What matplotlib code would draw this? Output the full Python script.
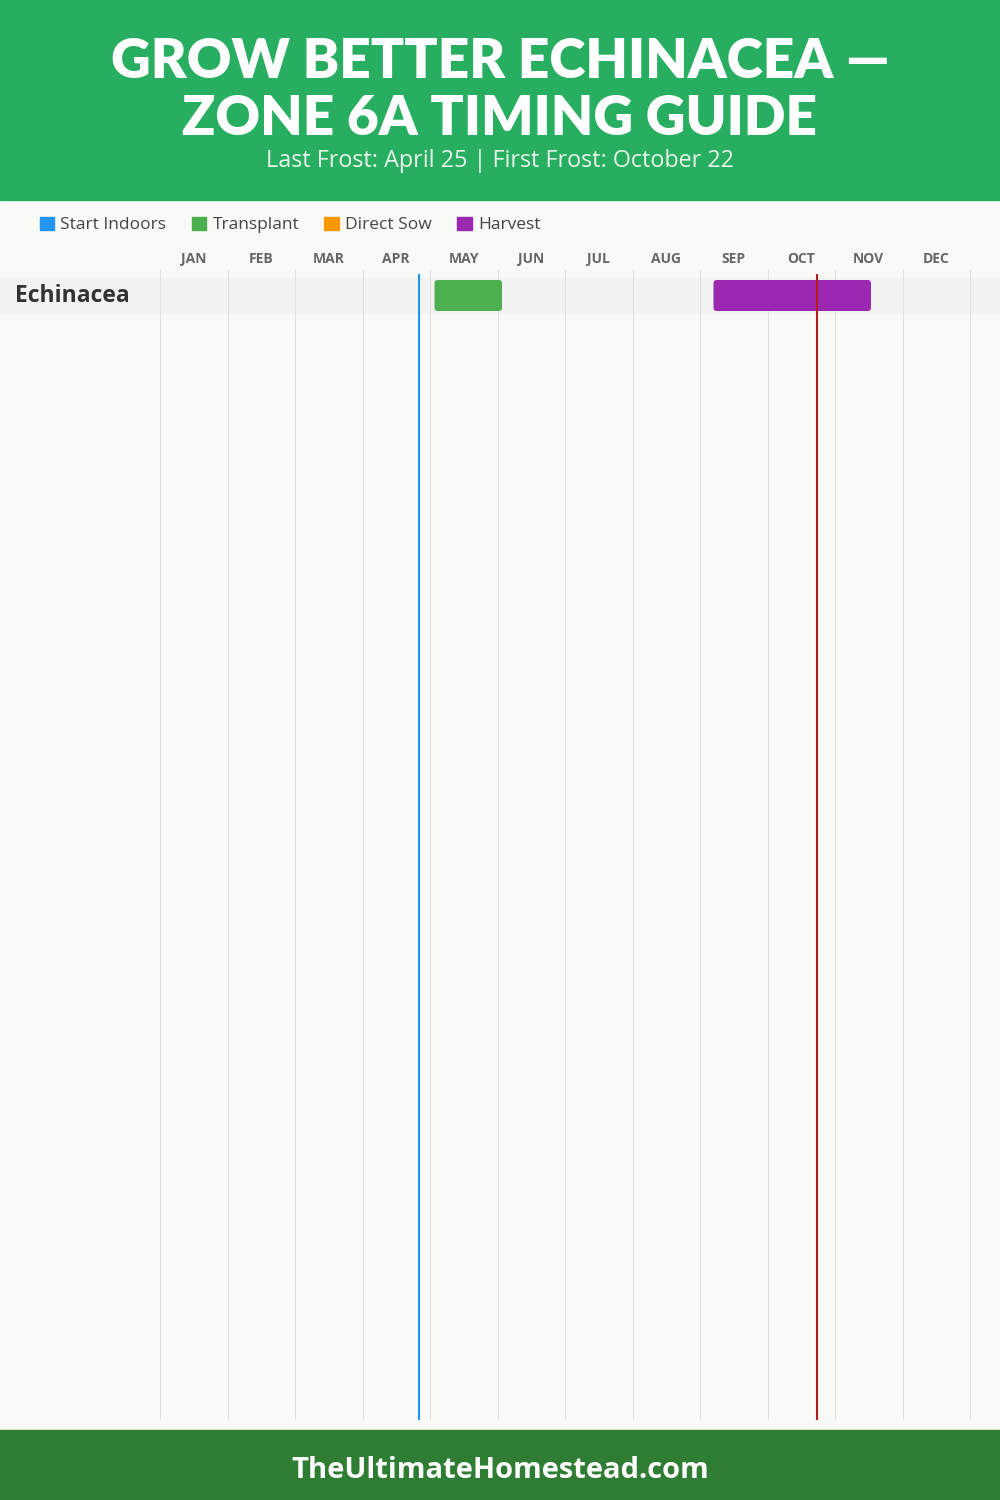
import matplotlib.pyplot as plt
from matplotlib.patches import Rectangle, FancyBboxPatch, Patch

# data
months = ['JAN', 'FEB', 'MAR', 'APR', 'MAY', 'JUN', 'JUL', 'AUG', 'SEP', 'OCT', 'NOV', 'DEC']
crops = ['Echinacea']
# (crop, stage, start (month, day), end (month, day))
stages = ['Start Indoors', 'Transplant', 'Direct Sow', 'Harvest']
stage_colors = ['#2196f3', '#4caf50', '#ff9800', '#9c27b0']
bars = [
    ('Echinacea', 'Transplant', (5, 2), (6, 2)),
    ('Echinacea', 'Harvest', (9, 6), (11, 16)),
]
last_frost = (4, 25)
first_frost = (10, 22)
title_lines = ['GROW BETTER ECHINACEA —', 'ZONE 6A TIMING GUIDE']
subtitle = 'Last Frost: April 25 | First Frost: October 22'
footer = 'TheUltimateHomestead.com'


def to_x(md):
    # month position, each month treated as 30 days
    m, d = md
    return (m - 1) + d / 30


W, H = 1000, 1500
fig = plt.figure(figsize=(10, 15), dpi=100)
fig.patch.set_facecolor('#f9f9f7')

# header and footer bands
fig.add_artist(Rectangle((0, 1 - 200 / H), 1, 200 / H, transform=fig.transFigure,
                         color='#27ae60', zorder=0))
fig.add_artist(Rectangle((0, 0), 1, 70 / H, transform=fig.transFigure,
                         color='#2e7d32', zorder=0))
for line, ypx in zip(title_lines, [62, 119]):
    fig.text(0.5, 1 - ypx / H, line, ha='center', va='center', color='white',
             fontsize=39.5, fontweight='heavy', family=['Lato', 'DejaVu Sans'])
fig.text(0.5, 1 - 161 / H, subtitle, ha='center', va='center', color='#e8f5e9',
         fontsize=16.8, family=['Open Sans', 'DejaVu Sans'])
fig.text(0.5, 1 - 1471 / H, footer, ha='center', va='center', color='white',
         fontsize=21, fontweight='bold', family=['Open Sans', 'DejaVu Sans'])

# chart axes: x in months, y in pixels below the grid top
left_px, month_px = 160, 67.5
top_px, bot_px = 270, 1420
ax = fig.add_axes([0, 1 - bot_px / H, 1, (bot_px - top_px) / H])
ax.set_xlim(-left_px / month_px, (W - left_px) / month_px)
ax.set_ylim(bot_px - top_px, 0)
ax.axis('off')

for i in range(len(months) + 1):
    ax.plot([i, i], [0, bot_px - top_px], color='#e0e0e0', lw=0.8, zorder=1)
for i, m in enumerate(months):
    ax.text(i + 0.5, -11, m, ha='center', va='center', fontsize=10,
            fontweight='bold', color='#666666', family=['Open Sans', 'DejaVu Sans'],
            clip_on=False)

row_h = 35
for r, crop in enumerate(crops):
    y0 = 8 + r * row_h
    ax.add_patch(Rectangle((ax.get_xlim()[0], y0), ax.get_xlim()[1] - ax.get_xlim()[0],
                           row_h, color='#f2f2f2', zorder=0.5))
    ax.text(-left_px / month_px + 15 / month_px, y0 + row_h / 2, crop, ha='left',
            va='center', fontsize=16.5, fontweight='bold', color='#333333',
            family=['Open Sans', 'DejaVu Sans'])
    for c, stage, s, e in bars:
        if c != crop:
            continue
        x0, x1 = to_x(s), to_x(e)
        ax.add_patch(FancyBboxPatch((x0, y0 + 2), x1 - x0, row_h - 4,
                                    boxstyle='round,pad=0,rounding_size=0.05',
                                    mutation_aspect=month_px,
                                    color=stage_colors[stages.index(stage)], lw=0,
                                    zorder=2))

ax.plot([to_x(last_frost)] * 2, [5, bot_px - top_px], color='#2196f3', lw=1.5, zorder=3)
ax.plot([to_x(first_frost)] * 2, [5, bot_px - top_px], color='#b71c1c', lw=1.5, zorder=3)

handles = [Patch(color=c, label=s) for s, c in zip(stages, stage_colors)]
fig.legend(handles=handles, loc='center left', bbox_to_anchor=(0.024, 1 - 225 / H),
           ncol=4, frameon=False, handlelength=0.85, handleheight=0.85,
           handletextpad=0.35, columnspacing=1.45,
           prop={'family': ['Open Sans', 'DejaVu Sans'], 'size': 12.5},
           labelcolor='#444444')

fig.savefig('out.png', dpi=100, facecolor=fig.get_facecolor())
